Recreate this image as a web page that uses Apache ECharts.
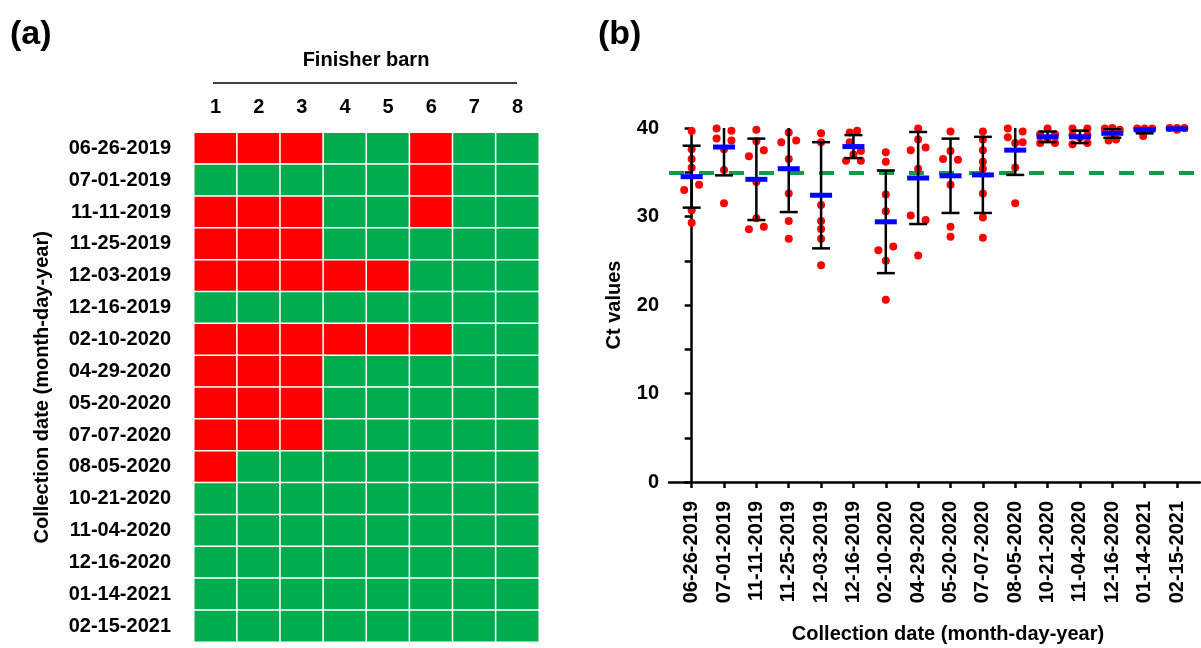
<!DOCTYPE html>
<html>
<head>
<meta charset="utf-8">
<script src="https://cdn.jsdelivr.net/npm/echarts@6/dist/echarts.min.js"></script>
<style>
  html, body { margin: 0; padding: 0; background: #fff; }
  #main { width: 1201px; height: 648px; }
</style>
</head>
<body>
<div id="main"></div>
<script>
// sampling dates (rows of panel a, columns of panel b)
var dates = ['06-26-2019', '07-01-2019', '11-11-2019', '11-25-2019', '12-03-2019', '12-16-2019',
  '02-10-2020', '04-29-2020', '05-20-2020', '07-07-2020', '08-05-2020', '10-21-2020',
  '11-04-2020', '12-16-2020', '01-14-2021', '02-15-2021'];
var barns = ['1', '2', '3', '4', '5', '6', '7', '8'];

// 1 = positive (red), 0 = negative (green), one row per date
var positive = [
  [1, 1, 1, 0, 0, 1, 0, 0],
  [0, 0, 0, 0, 0, 1, 0, 0],
  [1, 1, 1, 0, 0, 1, 0, 0],
  [1, 1, 1, 0, 0, 0, 0, 0],
  [1, 1, 1, 1, 1, 0, 0, 0],
  [0, 0, 0, 0, 0, 0, 0, 0],
  [1, 1, 1, 1, 1, 1, 0, 0],
  [1, 1, 1, 0, 0, 0, 0, 0],
  [1, 1, 1, 0, 0, 0, 0, 0],
  [1, 1, 1, 0, 0, 0, 0, 0],
  [1, 0, 0, 0, 0, 0, 0, 0],
  [0, 0, 0, 0, 0, 0, 0, 0],
  [0, 0, 0, 0, 0, 0, 0, 0],
  [0, 0, 0, 0, 0, 0, 0, 0],
  [0, 0, 0, 0, 0, 0, 0, 0],
  [0, 0, 0, 0, 0, 0, 0, 0]
];

// Ct values per date
var ctValues = [
  [39.66, 37.6, 36.5, 35.5, 33.0, 33.6, 30.7, 29.3],
  [39.95, 39.7, 38.8, 38.6, 37.6, 35.25, 31.5],
  [39.8, 38.5, 37.5, 36.8, 33.9, 29.8, 28.55, 28.85],
  [39.5, 38.4, 38.6, 36.5, 32.6, 29.5, 27.5],
  [39.4, 38.4, 31.3, 29.5, 28.6, 27.5, 24.5],
  [39.5, 39.7, 38.4, 37.0, 37.4, 36.3, 36.3],
  [37.25, 36.2, 32.5, 30.6, 26.2, 26.6, 25.0, 20.6],
  [39.95, 38.7, 37.5, 37.8, 35.4, 30.1, 29.6, 25.6],
  [39.6, 37.4, 36.5, 36.4, 33.6, 28.85, 27.7],
  [39.6, 38.7, 37.5, 36.2, 35.4, 32.6, 29.9, 27.6],
  [39.95, 39.6, 38.95, 38.4, 38.3, 35.55, 31.5],
  [39.95, 39.3, 39.3, 38.8, 38.3, 38.3],
  [39.95, 39.95, 39.2, 39.2, 38.15, 38.3, 38.9],
  [39.95, 40, 39.8, 38.6, 38.7],
  [39.95, 39.95, 39.95, 39.1],
  [40, 40, 40, 39.8]
];
// scatter side of each dot: -1 left, 0 centre, 1 right
var jitter = [
  [0, 0, 0, 0, -1, 1, 0, 0],
  [-1, 1, -1, 1, 0, 0, 0],
  [0, 0, 1, -1, 0, 0, -1, 1],
  [0, -1, 1, 0, 0, 0, 0],
  [0, 0, 0, 0, 0, 0, 0],
  [-0.5, 0.5, -0.5, 0, 1, -1, 1],
  [0, 0, 0, 0, -1, 1, 0, 0],
  [0, 0, -1, 1, 0, -1, 1, 0],
  [0, 0, -1, 1, 0, 0, 0],
  [0, 0, 0, 0, 0, 0, 0, 0],
  [-1, 1, -1, 1, 0, 0, 0],
  [0, -1, 1, 0, -1, 1],
  [-1, 1, -1, 1, -1, 1, 0],
  [-1, 0, 1, -0.5, 0.5],
  [-1, 0, 1, -0.2],
  [-1, 0, 1, 0]
];
var means = [34.5, 37.85, 34.2, 35.4, 32.4, 37.9, 29.4, 34.35, 34.6, 34.7, 37.5, 39.0, 39.0, 39.4, 39.8, 39.9];
var sds = [3.5, 3.2, 4.6, 4.9, 6.0, 1.3, 5.8, 5.2, 4.2, 4.3, 2.8, 0.6, 0.7, 0.5, 0.4, 0.1];
var cutoff = 35;

var FONT = 'Liberation Sans, Arial, sans-serif';

var heatData = [];
positive.forEach(function (row, r) {
  row.forEach(function (v, c) {
    heatData.push([c, r, v]);
  });
});

var dots = [];
ctValues.forEach(function (vals, i) {
  vals.forEach(function (v, k) {
    dots.push([i + jitter[i][k] * 0.23, v]);
  });
});

var errData = means.map(function (m, i) { return [i, m - sds[i], m + sds[i]]; });
var meanData = means.map(function (m, i) { return [i, m]; });
var idx = dates.map(function (d, i) { return i; });

var boldText = {fontFamily: FONT, fontWeight: 'bold', fontSize: 20, color: '#000'};

var option = {
  backgroundColor: '#fff',
  animation: false,
  textStyle: {fontFamily: FONT},
  grid: [
    {left: 194, top: 132.5, width: 345, height: 509.5},
    {left: 669, top: 128, width: 531, height: 354}
  ],
  visualMap: {
    type: 'piecewise',
    show: false,
    seriesIndex: 0,
    pieces: [
      {value: 1, color: '#FF0000'},
      {value: 0, color: '#00AC4E'}
    ]
  },
  xAxis: [
    {
      gridIndex: 0,
      type: 'category',
      position: 'top',
      data: barns,
      axisLine: {show: false},
      axisTick: {show: false},
      axisLabel: Object.assign({margin: 15}, boldText),
      splitLine: {show: false}
    },
    {
      gridIndex: 1,
      type: 'value',
      min: -0.7,
      max: 15.71,
      splitLine: {show: false},
      axisLine: {lineStyle: {color: '#000', width: 2.5}},
      axisTick: {show: true, length: 6, lineStyle: {color: '#000', width: 2.5}, customValues: idx},
      axisLabel: Object.assign({
        rotate: 90, margin: 19, customValues: idx,
        formatter: function (v) { return dates[Math.round(v)]; }
      }, boldText)
    }
  ],
  yAxis: [
    {
      gridIndex: 0,
      type: 'category',
      inverse: true,
      data: dates,
      axisLine: {show: false},
      axisTick: {show: false},
      axisLabel: Object.assign({margin: 23}, boldText),
      name: 'Collection date (month-day-year)',
      nameLocation: 'middle',
      nameGap: 142,
      nameRotate: 90,
      nameTextStyle: boldText
    },
    {
      gridIndex: 1,
      type: 'value',
      min: 0,
      max: 40,
      interval: 5,
      splitLine: {show: false},
      axisLine: {show: true, lineStyle: {color: '#000', width: 2.5}},
      axisTick: {show: true, length: 7, lineStyle: {color: '#000', width: 2.5}},
      axisLabel: Object.assign({
        margin: 10,
        formatter: function (v) { return v % 10 === 0 ? String(v) : ''; }
      }, boldText),
      name: 'Ct values',
      nameLocation: 'middle',
      nameGap: 45,
      nameRotate: 90,
      nameTextStyle: boldText
    }
  ],
  graphic: [
    {type: 'text', left: 10, top: 18, style: {text: '(a)', font: 'bold 34px ' + FONT, fill: '#000'}},
    {type: 'text', left: 598, top: 18, style: {text: '(b)', font: 'bold 34px ' + FONT, fill: '#000'}},
    {type: 'text', x: 366, y: 60, style: {text: 'Finisher barn', font: 'bold 20px ' + FONT, fill: '#000', align: 'center', verticalAlign: 'middle'}},
    {type: 'line', shape: {x1: 213, y1: 83, x2: 517, y2: 83}, style: {stroke: '#000', lineWidth: 1.5}},
    {type: 'text', x: 948, y: 634, style: {text: 'Collection date (month-day-year)', font: 'bold 20px ' + FONT, fill: '#000', align: 'center', verticalAlign: 'middle'}}
  ],
  series: [
    {
      type: 'heatmap',
      xAxisIndex: 0,
      yAxisIndex: 0,
      data: heatData,
      itemStyle: {borderColor: '#fff', borderWidth: 1.5}
    },
    {
      type: 'scatter',
      xAxisIndex: 1,
      yAxisIndex: 1,
      data: dots,
      symbolSize: 8,
      itemStyle: {color: '#FF0000', opacity: 1},
      z: 2,
      markLine: {
        silent: true,
        symbol: 'none',
        label: {show: false},
        lineStyle: {color: '#0F9D48', width: 4, type: [15, 15], opacity: 1},
        data: [{yAxis: cutoff}],
        z: 1
      }
    },
    {
      type: 'custom',
      xAxisIndex: 1,
      yAxisIndex: 1,
      clip: true,
      z: 3,
      data: errData,
      renderItem: function (params, api) {
        var top = api.coord([api.value(0), api.value(2)]);
        var bot = api.coord([api.value(0), api.value(1)]);
        var half = 9;
        var st = {stroke: '#000', lineWidth: 2.5};
        return {
          type: 'group',
          children: [
            {type: 'line', shape: {x1: top[0], y1: top[1], x2: bot[0], y2: bot[1]}, style: st},
            {type: 'line', shape: {x1: top[0] - half, y1: top[1], x2: top[0] + half, y2: top[1]}, style: st},
            {type: 'line', shape: {x1: bot[0] - half, y1: bot[1], x2: bot[0] + half, y2: bot[1]}, style: st}
          ]
        };
      }
    },
    {
      type: 'scatter',
      xAxisIndex: 1,
      yAxisIndex: 1,
      data: meanData,
      symbol: 'rect',
      symbolSize: [22, 5],
      itemStyle: {color: '#0000FF', opacity: 1},
      z: 4
    }
  ]
};

var chart = echarts.init(document.getElementById('main'));
chart.setOption(option);
</script>
</body>
</html>
